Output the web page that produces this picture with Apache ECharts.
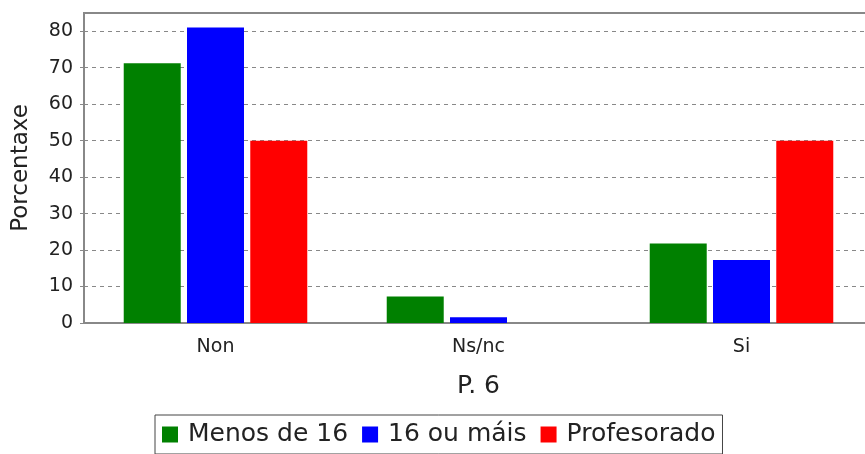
<!DOCTYPE html>
<html>
<head>
<meta charset="utf-8">
<script src="https://cdn.jsdelivr.net/npm/echarts@6/dist/echarts.min.js"></script>
<style>
  html, body { margin: 0; padding: 0; background: #fff; }
  #chart { width: 865px; height: 454px; }
</style>
</head>
<body>
<div id="chart"></div>
<script>
const categories = ['Non', 'Ns/nc', 'Si'];
const menosDe16 = [71.2, 7.3, 21.8];
const dezaseisOuMais = [81.0, 1.6, 17.3];
const profesorado = [50, 0, 50];

const chart = echarts.init(document.getElementById('chart'));

const font = 'DejaVu Sans';

const option = {
  animation: false,
  textStyle: { fontFamily: font },
  grid: {
    left: 84,
    width: 789,
    top: 13,
    bottom: 131,
    outerBoundsMode: 'none',
    show: true,
    borderColor: '#888',
    borderWidth: 2
  },
  legend: {
    left: 155,
    top: 415,
    orient: 'horizontal',
    icon: 'rect',
    itemWidth: 16,
    itemHeight: 16,
    itemGap: 14,
    borderColor: '#444',
    borderWidth: 1,
    padding: [7, 7, 7, 7],
    textStyle: { fontFamily: font, fontSize: 25, color: '#222', padding: [0, 0, 0, 5] },
    data: ['Menos de 16', '16 ou máis', 'Profesorado']
  },
  xAxis: {
    type: 'category',
    data: categories,
    name: 'P. 6',
    nameLocation: 'middle',
    nameGap: 51,
    nameTextStyle: { fontFamily: font, fontSize: 25, color: '#222' },
    axisLine: { lineStyle: { color: '#888', width: 2 } },
    axisTick: { alignWithLabel: true, length: 4, lineStyle: { color: '#888' } },
    axisLabel: { fontFamily: font, fontSize: 19, color: '#222', margin: 15 }
  },
  yAxis: {
    type: 'value',
    min: 0,
    max: 85,
    interval: 10,
    name: 'Porcentaxe',
    nameLocation: 'middle',
    nameGap: 51,
    nameTextStyle: { fontFamily: font, fontSize: 23, color: '#222' },
    axisLine: { show: true, lineStyle: { color: '#888', width: 2 } },
    axisTick: { show: true, length: 4, lineStyle: { color: '#888' } },
    axisLabel: { fontFamily: font, fontSize: 19, color: '#222', margin: 11, showMaxLabel: false },
    splitLine: { lineStyle: { color: '#888', type: [4, 4], width: 1 } }
  },
  series: [
    {
      name: 'Menos de 16',
      type: 'bar',
      data: menosDe16,
      barWidth: 57,
      barGap: '11%',
      itemStyle: { color: '#008000' }
    },
    {
      name: '16 ou máis',
      type: 'bar',
      data: dezaseisOuMais,
      barWidth: 57,
      barGap: '11%',
      itemStyle: { color: '#0000ff' }
    },
    {
      name: 'Profesorado',
      type: 'bar',
      data: profesorado,
      barWidth: 57,
      barGap: '11%',
      itemStyle: { color: '#ff0000' }
    }
  ]
};

chart.setOption(option);
</script>
</body>
</html>
